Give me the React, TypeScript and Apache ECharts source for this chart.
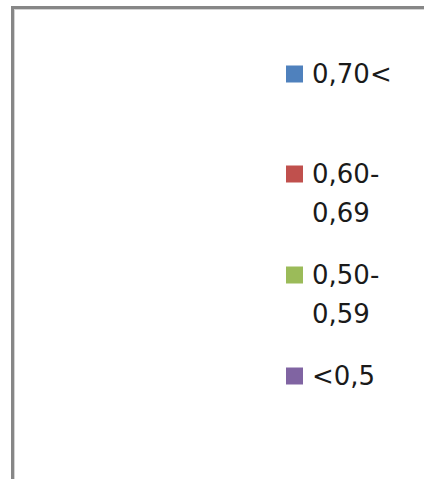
import React, { useEffect, useRef } from "react";
import * as echarts from "echarts";

const categories = ["0,70<", "0,60-0,69", "0,50-0,59", "<0,5"];
const legendLabels = ["0,70<", "0,60-\n0,69", "0,50-\n0,59", "<0,5"];
const seriesValues: number[][] = [[], [], [], []];
const colors = ["#4F81BD", "#C0504D", "#9BBB59", "#8064A2"];

export default function App() {
  const ref = useRef<HTMLDivElement>(null);
  useEffect(() => {
    if (!ref.current) return;
    const chart = echarts.init(ref.current, null, { renderer: "svg" });
    const iconCenters = [74, 174, 275, 376];
    const lineH = 39;
    const legends = categories.map((name, i) => {
      const lines = legendLabels[i].split("\n").length;
      // pad with blank leading lines so the first line stays centred on the icon
      const label =
        lines > 1 ? Array(lines - 1).fill(" ").join("\n") + "\n" + legendLabels[i] : legendLabels[i];
      const total = lines > 1 ? 2 * lines - 1 : 1;
      const boxH = total * lineH;
      return {
        show: true,
        orient: "vertical",
        left: 286,
        top: iconCenters[i] - boxH / 2,
        padding: 0,
        icon: "rect",
        itemWidth: 17,
        itemHeight: 17,
        selectedMode: false,
        data: [name],
        formatter: () => label,
        textStyle: {
          fontFamily: "DejaVu Sans",
          fontSize: 26,
          color: "#1a1a1a",
          lineHeight: lineH,
          padding: [0, 0, 0, 4],
        },
      };
    });
    chart.setOption({
      animation: false,
      backgroundColor: "#ffffff",
      color: colors,
      grid: { left: 0, right: 0, top: 0, bottom: 0, show: false },
      xAxis: { type: "category", show: false, data: [] },
      yAxis: { type: "value", show: false },
      legend: legends,
      series: categories.map((name, i) => ({
        name,
        type: "bar",
        data: seriesValues[i],
        itemStyle: { color: colors[i] },
      })),
      graphic: [
        {
          type: "line",
          shape: { x1: 12.5, y1: 6, x2: 12.5, y2: 479 },
          style: { stroke: "#878787", lineWidth: 3 },
        },
        {
          type: "line",
          shape: { x1: 14.5, y1: 9, x2: 14.5, y2: 479 },
          style: { stroke: "#d4d4d4", lineWidth: 1 },
        },
        {
          type: "line",
          shape: { x1: 11, y1: 7.5, x2: 424, y2: 7.5 },
          style: { stroke: "#878787", lineWidth: 3 },
        },
        {
          type: "line",
          shape: { x1: 14, y1: 9.5, x2: 424, y2: 9.5 },
          style: { stroke: "#d4d4d4", lineWidth: 1 },
        },
      ],
    });
    return () => chart.dispose();
  }, []);
  return (
    <div
      ref={ref}
      style={{ position: "absolute", left: 0, top: 0, width: 424, height: 479 }}
    />
  );
}
